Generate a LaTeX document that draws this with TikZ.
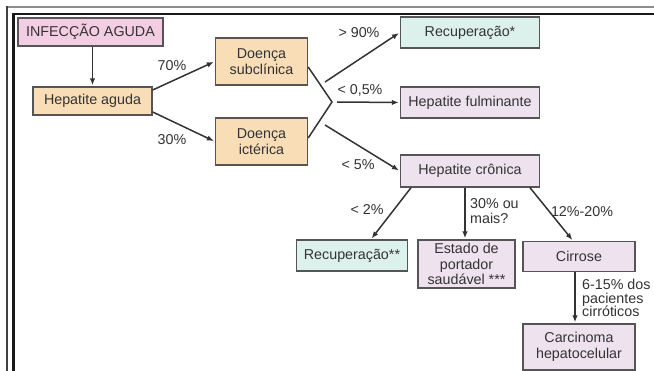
\documentclass[tikz,border=0pt]{standalone}
\usepackage{fontspec}
\setmainfont{Liberation Sans}
\usetikzlibrary{arrows.meta}
\definecolor{ink}{HTML}{333333}
\definecolor{boxline}{HTML}{555555}
\definecolor{pinkbox}{HTML}{F3CEE2}
\definecolor{tanbox}{HTML}{F8DDB6}
\definecolor{mintbox}{HTML}{DDF1EC}
\definecolor{lilacbox}{HTML}{EEE2EF}

\begin{document}
\begin{tikzpicture}[x=1pt, y=-1pt,
  box/.style={draw=boxline, line width=1.4pt, text=ink, align=center, inner sep=0pt, font=\fontsize{14.3}{15.5}\selectfont},
  lbl/.style={text=ink, inner sep=0pt, font=\fontsize{14.3}{15.5}\selectfont},
  arr/.style={draw=ink, line width=1.5pt, shorten >=1pt, -{Latex[length=7pt,width=5.5pt]}}]
\useasboundingbox (0,0) rectangle (654,371);
\fill[white] (0,0) rectangle (654,371);
\draw[black!45, line width=2pt] (7,7.5) -- (654,7.5);
\draw[black!75, line width=2pt] (7,6.5) -- (7,371);
\draw[black!90, line width=2.5pt] (12,14) -- (654,14);
\draw[black!90, line width=3pt] (13.5,12.75) -- (13.5,371);
\node[box, fill=pinkbox, minimum width=145pt, minimum height=28pt] (infec) at (90.5,32) {INFECÇÃO AGUDA};
\node[box, fill=tanbox, minimum width=119pt, minimum height=28pt] (hagud) at (92.5,101) {Hepatite aguda};
\node[box, fill=tanbox, minimum width=92pt, minimum height=47pt] (subcl) at (261.5,61.5) {Doença\\subclínica};
\node[box, fill=tanbox, minimum width=92pt, minimum height=47pt] (icter) at (261.5,141.5) {Doença\\ictérica};
\node[box, fill=mintbox, minimum width=139pt, minimum height=31pt] (rec1) at (470,32.5) {Recuperação*};
\node[box, fill=lilacbox, minimum width=139pt, minimum height=31pt] (hfulm) at (470,102.5) {Hepatite fulminante};
\node[box, fill=lilacbox, minimum width=139pt, minimum height=32pt] (hcron) at (470,171) {Hepatite crônica};
\node[box, fill=mintbox, minimum width=111pt, minimum height=31pt] (rec2) at (352,255.5) {Recuperação**};
\node[box, fill=lilacbox, minimum width=97pt, minimum height=48pt] (estado) at (466.5,264) {Estado de\\portador\\saudável ***};
\node[box, fill=lilacbox, minimum width=112pt, minimum height=30pt] (cirr) at (579,256.5) {Cirrose};
\node[box, fill=lilacbox, minimum width=112pt, minimum height=46pt] (carc) at (579,347) {Carcinoma\\hepatocelular};
\coordinate (vtx) at (332,102);
\coordinate (up) at (325,82);
\coordinate (mid) at (337,102);
\coordinate (low) at (325,125);
\draw[arr] (hagud.north |- infec.south) -- (hagud.north);
\draw[arr] ([yshift=11pt]hagud.east) -- (subcl.west);
\draw[arr] ([yshift=-11pt]hagud.east) -- (icter.west);
\draw[draw=ink, line width=1.5pt] ([yshift=-5.5pt]subcl.east) -- (vtx) -- ([yshift=3.5pt]icter.east);
\draw[arr] (up) -- (rec1.west);
\draw[arr] (mid) -- (hfulm.west);
\draw[arr] (low) -- (hcron.west);
\draw[arr] ([xshift=-59pt]hcron.south) -- ([xshift=19pt]rec2.north);
\draw[arr] ([xshift=-5pt]hcron.south) -- ([xshift=-1.5pt]estado.north);
\draw[arr] ([xshift=60pt]hcron.south) -- ([xshift=-6pt]cirr.north);
\draw[arr] ([xshift=-4pt]cirr.south) -- ([xshift=-4pt]carc.north);
\node[lbl] (p70) at (172,66) {70\%};
\node[lbl] (p30) at (172,140) {30\%};
\node[lbl] (p90) at (359,33) {> 90\%};
\node[lbl] (p05) at (360,90) {< 0,5\%};
\node[lbl] (p5) at (358,165) {< 5\%};
\node[lbl] (p2) at (367,210) {< 2\%};
\node[lbl, align=left, anchor=west] (p30m) at (470,211) {30\% ou\\mais?};
\node[lbl] (p1220) at (582,212) {12\%-20\%};
\node[lbl, align=left, anchor=west, font=\fontsize{14.3}{13.5}\selectfont] (p615) at (582,298) {6-15\% dos\\pacientes\\cirróticos};
\end{tikzpicture}
\end{document}
